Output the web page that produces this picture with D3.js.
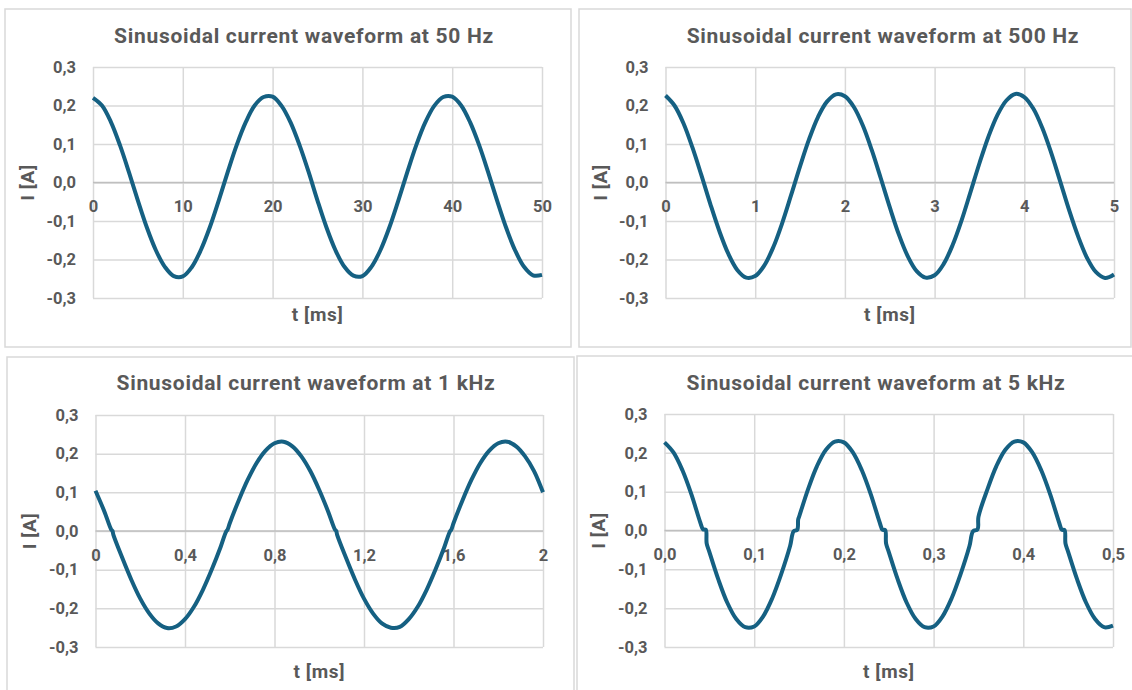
<!DOCTYPE html>
<meta charset="utf-8">
<style>
body { margin: 0; background: #fff; }
svg text { font-family: "Roboto", sans-serif; font-weight: bold; fill: #595959; }
.title { font-size: 21px; letter-spacing: 0.7px; }
.axis-title { font-size: 19px; letter-spacing: 0.6px; }
.tick text { font-size: 16.5px; }
.grid line { stroke: #d9d9d9; stroke-width: 1.5px; }
.grid path { display: none; }
.labels path { display: none; }
.zero { stroke: #bfbfbf; stroke-width: 1.5px; }
.box { fill: #fff; stroke: #d9d9d9; stroke-width: 1.5px; }
.wave { fill: none; stroke: #156082; stroke-width: 4px; stroke-linejoin: round; }
</style>
<body>
<svg id="chart" width="1132" height="690"></svg>
<script src="https://cdn.jsdelivr.net/npm/d3@7"></script>
<script>

var titles = [
  "Sinusoidal current waveform at 50 Hz",
  "Sinusoidal current waveform at 500 Hz",
  "Sinusoidal current waveform at 1 kHz",
  "Sinusoidal current waveform at 5 kHz"
];

var yTicks = [0.3, 0.2, 0.1, 0, -0.1, -0.2, -0.3];
var yTickLabels = ["0,3", "0,2", "0,1", "0,0", "-0,1", "-0,2", "-0,3"];

// 50 Hz, t in ms
var t50 = [0,1,2,3,4,5,6,7,8,9,10,11,12,13,14,15,16,17,18,19,20,21,22,23,24,25,
  26,27,28,29,30,31,32,33,34,35,36,37,38,39,40,41,42,43,44,45,46,47,48,49,50];
var i50 = [0.220,0.200,0.157,0.097,0.027,-0.047,-0.117,-0.176,-0.219,-0.243,-0.244,
  -0.220,-0.176,-0.117,-0.047,0.027,0.097,0.156,0.200,0.222,0.223,0.199,0.156,0.097,
  0.028,-0.047,-0.117,-0.176,-0.219,-0.242,-0.243,-0.219,-0.176,-0.117,-0.047,0.027,
  0.097,0.156,0.199,0.222,0.223,0.200,0.156,0.097,0.027,-0.047,-0.117,-0.176,-0.219,
  -0.241,-0.240];
var xTicks50 = [0, 10, 20, 30, 40, 50];
var xLabels50 = ["0", "10", "20", "30", "40", "50"];

// 500 Hz
var t500 = [0,0.1,0.2,0.3,0.4,0.5,0.6,0.7,0.8,0.9,1.0,1.1,1.2,1.3,1.4,1.5,1.6,1.7,1.8,1.9,
  2.0,2.1,2.2,2.3,2.4,2.5,2.6,2.7,2.8,2.9,3.0,3.1,3.2,3.3,3.4,3.5,3.6,3.7,3.8,3.9,
  4.0,4.1,4.2,4.3,4.4,4.5,4.6,4.7,4.8,4.9,5.0];
var i500 = [0.226,0.200,0.154,0.091,0.019,-0.056,-0.126,-0.185,-0.227,-0.247,-0.243,
  -0.216,-0.169,-0.106,-0.033,0.042,0.112,0.170,0.210,0.229,0.224,0.196,0.148,0.084,
  0.011,-0.064,-0.134,-0.191,-0.230,-0.247,-0.241,-0.212,-0.163,-0.099,-0.025,0.050,
  0.119,0.175,0.213,0.230,0.222,0.192,0.142,0.077,0.003,-0.072,-0.140,-0.196,-0.233,
  -0.248,-0.239];
var xTicks500 = [0, 1, 2, 3, 4, 5];
var xLabels500 = ["0", "1", "2", "3", "4", "5"];

// 1 kHz (small kinks at the zero crossings)
var t1k = [0,0.04,0.07,0.076,0.08,0.12,0.16,0.20,0.24,0.28,0.32,0.36,0.40,0.44,0.48,0.52,
  0.56,0.584,0.59,0.60,0.64,0.68,0.72,0.76,0.80,0.84,0.88,0.92,0.96,
  1.00,1.04,1.07,1.076,1.08,1.12,1.16,1.20,1.24,1.28,1.32,1.36,1.40,1.44,1.48,1.52,
  1.56,1.584,1.59,1.60,1.64,1.68,1.72,1.76,1.80,1.84,1.88,1.92,1.96,2.00];
var i1k = [0.104,0.050,0.004,0.000,-0.010,-0.070,-0.126,-0.175,-0.213,-0.239,-0.251,
  -0.247,-0.228,-0.196,-0.152,-0.099,-0.040,-0.001,0.003,0.020,0.079,0.132,0.176,0.208,
  0.227,0.231,0.219,0.193,0.155,
  0.106,0.050,0.004,0.000,-0.010,-0.070,-0.126,-0.175,-0.213,-0.239,-0.250,-0.248,
  -0.228,-0.196,-0.152,-0.099,-0.040,-0.001,0.003,0.020,0.079,0.132,0.176,0.208,0.227,
  0.231,0.219,0.193,0.155,0.100];
var xTicks1k = [0, 0.4, 0.8, 1.2, 1.6, 2];
var xLabels1k = ["0", "0,4", "0,8", "1,2", "1,6", "2"];

// 5 kHz (flat steps around every zero crossing)
var t5k = [0,0.01,0.02,0.03,0.04,0.043,0.046,0.047,0.05,0.06,0.07,0.08,0.09,0.10,0.11,
  0.12,0.13,0.14,0.144,0.148,0.149,0.15,0.16,0.17,0.18,0.19,0.20,0.21,0.22,0.23,0.24,
  0.243,0.246,0.247,0.25,0.26,0.27,0.28,0.29,0.30,0.31,0.32,0.33,0.34,0.344,0.349,0.35,
  0.36,0.37,0.38,0.39,0.40,0.41,0.42,0.43,0.44,0.443,0.446,0.447,0.45,0.46,0.47,0.48,
  0.49,0.50];
var i5k = [0.227,0.201,0.155,0.093,0.020,0.003,0.002,-0.033,-0.055,-0.126,-0.186,-0.228,
  -0.249,-0.247,-0.221,-0.175,-0.113,-0.040,-0.002,0.002,0.028,0.035,0.106,0.166,0.208,
  0.229,0.227,0.201,0.155,0.093,0.020,0.002,0.001,-0.033,-0.055,-0.126,-0.186,-0.228,
  -0.249,-0.247,-0.221,-0.175,-0.113,-0.040,-0.002,0.003,0.035,0.106,0.166,0.208,0.229,
  0.227,0.201,0.155,0.093,0.020,0.002,0.001,-0.033,-0.055,-0.126,-0.186,-0.228,-0.249,
  -0.245];
var xTicks5k = [0, 0.1, 0.2, 0.3, 0.4, 0.5];
var xLabels5k = ["0,0", "0,1", "0,2", "0,3", "0,4", "0,5"];

// ---- layout of the four chart boxes ----
var panels = [
  {t: t50,  v: i50,  xt: xTicks50,  xl: xLabels50,  title: titles[0],
   box: [5, 9, 566, 338],    plot: [93, 542, 67, 298],     titleX: 304, titleY: 37,  xlabY: 316, ylabX: 29},
  {t: t500, v: i500, xt: xTicks500, xl: xLabels500, title: titles[1],
   box: [579, 9, 552, 338],  plot: [665.5, 1114, 67, 298], titleX: 883, titleY: 37,  xlabY: 316, ylabX: 602},
  {t: t1k,  v: i1k,  xt: xTicks1k,  xl: xLabels1k,  title: titles[2],
   box: [7, 357, 567, 340],  plot: [95.5, 543, 415, 647],  titleX: 306, titleY: 384, xlabY: 673, ylabX: 31},
  {t: t5k,  v: i5k,  xt: xTicks5k,  xl: xLabels5k,  title: titles[3],
   box: [577, 356, 560, 340],plot: [664.5, 1113, 414, 647],titleX: 876, titleY: 384, xlabY: 673, ylabX: 600}
];

var svg = d3.select("#chart");

panels.forEach(function(p) {
  var l = p.plot[0], r = p.plot[1], top = p.plot[2], bot = p.plot[3];
  var g = svg.append("g");

  g.append("rect").attr("class", "box")
      .attr("x", p.box[0]).attr("y", p.box[1])
      .attr("width", p.box[2]).attr("height", p.box[3]);

  var x = d3.scaleLinear().domain([p.xt[0], p.xt[p.xt.length - 1]]).range([l, r]);
  var y = d3.scaleLinear().domain([-0.3, 0.3]).range([bot, top]);

  // gridlines
  g.append("g").attr("class", "grid")
      .attr("transform", "translate(0," + bot + ")")
      .call(d3.axisBottom(x).tickValues(p.xt).tickSize(-(bot - top)).tickFormat(""));
  g.append("g").attr("class", "grid")
      .attr("transform", "translate(" + l + ",0)")
      .call(d3.axisLeft(y).tickValues(yTicks).tickSize(-(r - l)).tickFormat(""));

  g.append("line").attr("class", "zero")
      .attr("x1", l).attr("x2", r).attr("y1", y(0)).attr("y2", y(0));

  // tick labels
  g.append("g").attr("class", "labels")
      .attr("transform", "translate(" + l + ",0)")
      .call(d3.axisLeft(y).tickValues(yTicks).tickSize(0).tickPadding(17)
        .tickFormat(function(d, i) { return yTickLabels[i]; }));
  g.append("g").attr("class", "labels")
      .attr("transform", "translate(0," + y(0) + ")")
      .call(d3.axisBottom(x).tickValues(p.xt).tickSize(0).tickPadding(18)
        .tickFormat(function(d, i) { return p.xl[i]; }));

  // waveform
  var line = d3.line()
      .curve(d3.curveCatmullRom.alpha(0.5))
      .x(function(d, i) { return x(p.t[i]); })
      .y(function(d) { return y(d); });
  g.append("path").attr("class", "wave").attr("d", line(p.v));

  // titles
  g.append("text").attr("class", "title")
      .attr("x", p.titleX).attr("y", p.titleY)
      .attr("text-anchor", "middle").attr("dominant-baseline", "middle")
      .text(p.title);
  g.append("text").attr("class", "axis-title")
      .attr("x", (l + r) / 2).attr("y", p.xlabY)
      .attr("text-anchor", "middle").attr("dominant-baseline", "middle")
      .text("t [ms]");
  g.append("text").attr("class", "axis-title")
      .attr("transform", "translate(" + p.ylabX + "," + y(0) + ") rotate(-90)")
      .attr("text-anchor", "middle").attr("dominant-baseline", "middle")
      .text("I [A]");
});

</script>
</body>
